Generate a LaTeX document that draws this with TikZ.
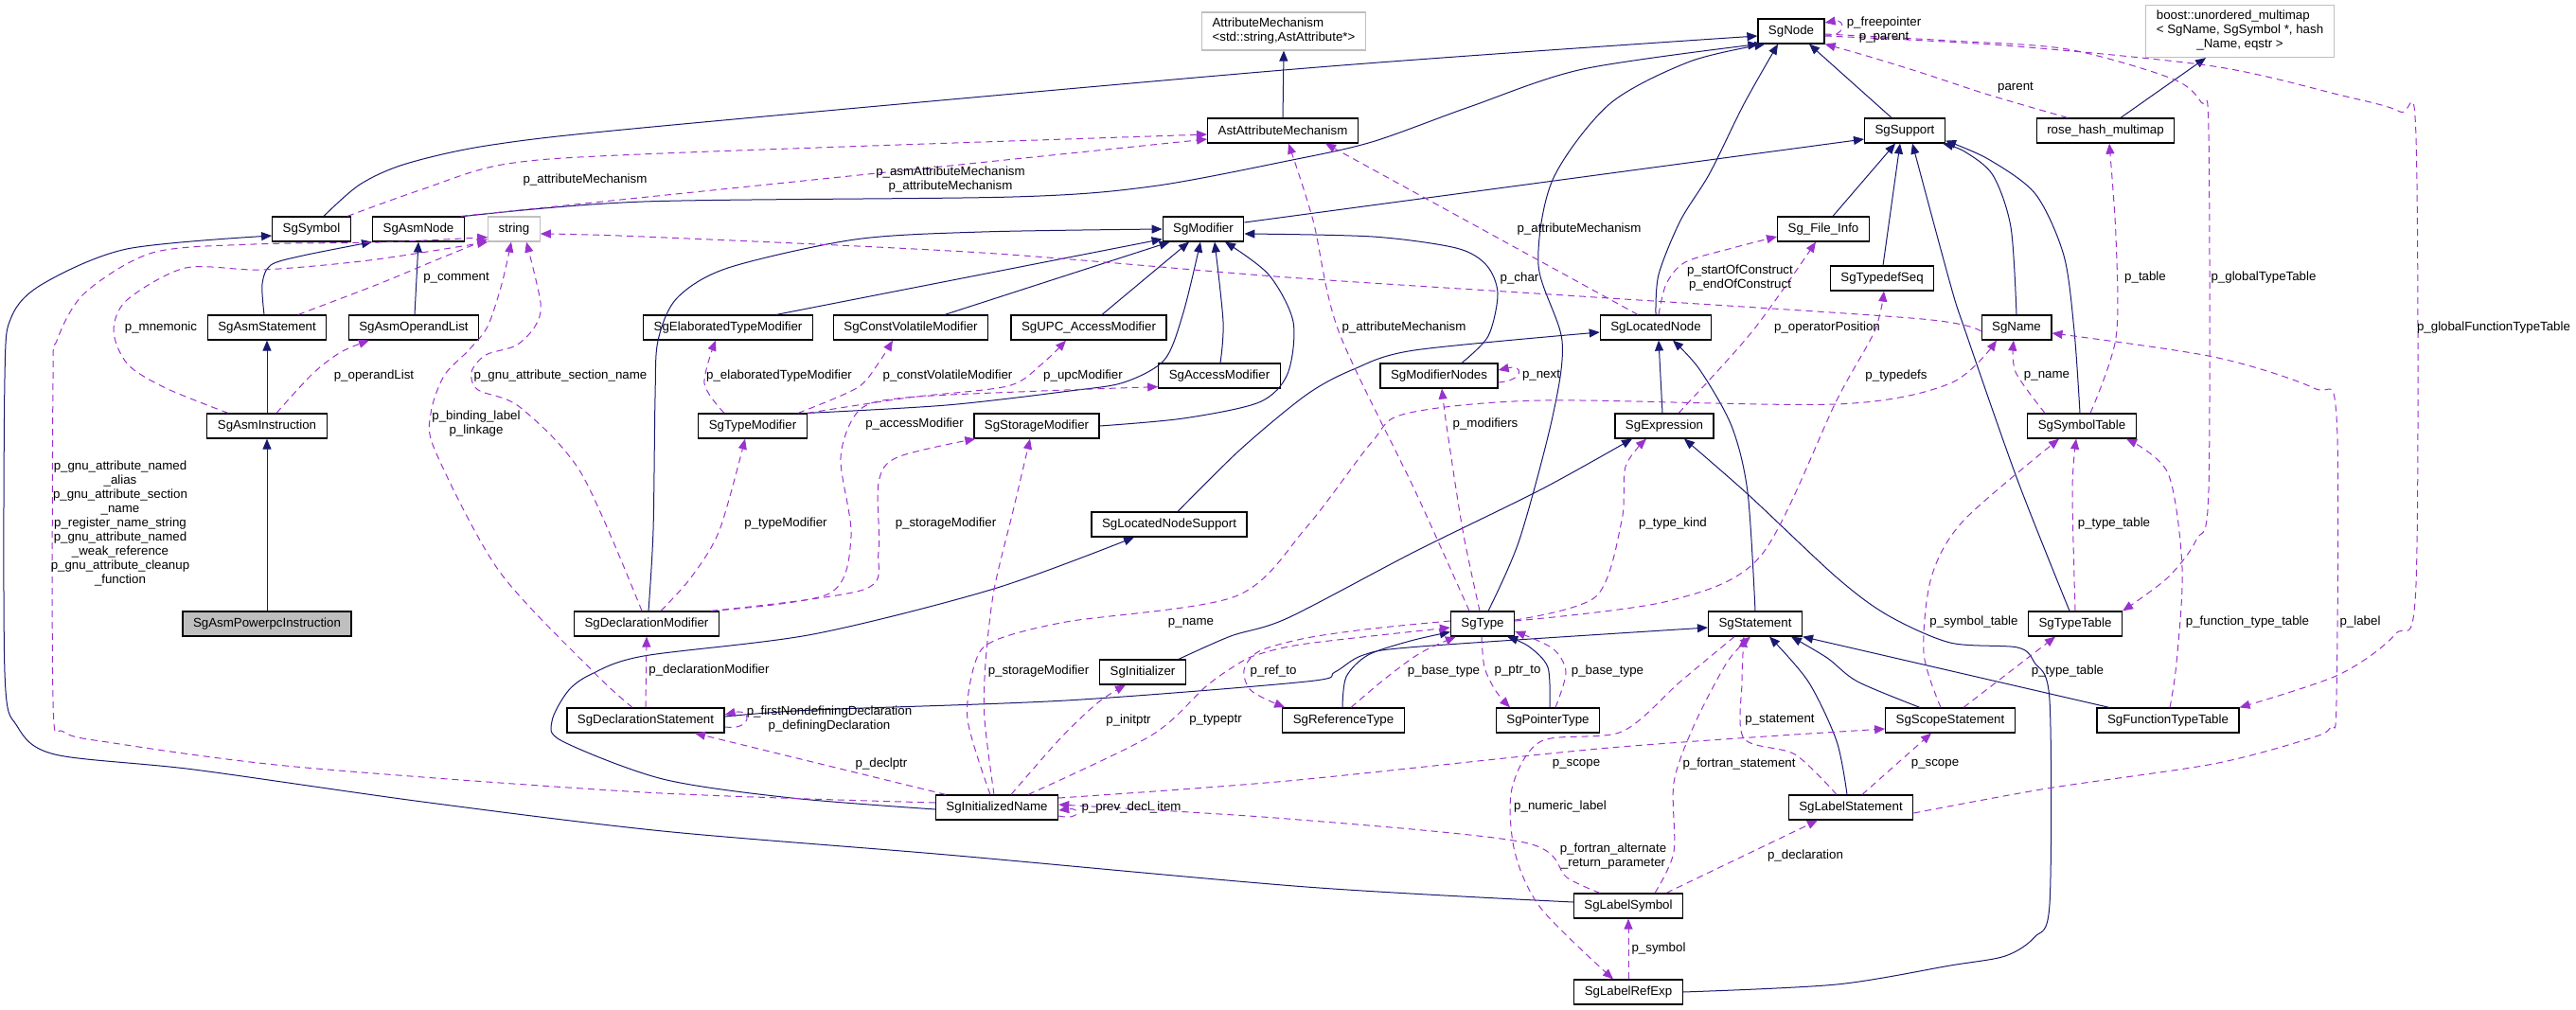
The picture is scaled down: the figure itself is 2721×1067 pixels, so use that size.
\documentclass[tikz,border=0pt]{standalone}
\usepackage{fontspec}
\setmainfont{Liberation Sans}
\usetikzlibrary{arrows.meta}
\definecolor{inhblue}{HTML}{191970}
\definecolor{usepurple}{HTML}{9A32CD}
\definecolor{boxgray}{HTML}{BFBFBF}

\begin{document}
\begin{tikzpicture}[x=1pt, y=-1pt,
    cls/.style={draw=black, line width=1.2pt, fill=white, minimum height=26pt,
        inner xsep=11pt, inner ysep=5pt, font=\fontsize{13.3}{15}\selectfont},
    ext/.style={cls, draw=boxgray},
    hl/.style={cls, fill=boxgray},
    inh/.style={draw=inhblue, line width=1pt, -{Triangle[length=11pt,width=9pt]}},
    usage/.style={draw=usepurple, line width=1pt, dash pattern=on 7pt off 5pt,
        -{Triangle[length=11pt,width=9pt]}},
    lbl/.style={inner sep=0pt, align=center, font=\fontsize{13.3}{15}\selectfont},
]
    \useasboundingbox (0,0) rectangle (2721,1067);

    % classes
    \node [ext] (AttrMech) at (1356,33) {\begin{tabular}{@{}l@{}}AttributeMechanism\\\multicolumn{1}{@{}c@{}}{<std::string,AstAttribute*>}\end{tabular}};
    \node [ext] (boostMap) at (2366,33) {\begin{tabular}{@{}l@{}}boost::unordered\_multimap\\< SgName, SgSymbol *, hash\\\multicolumn{1}{@{}c@{}}{\_Name, eqstr >}\end{tabular}};
    \node [cls] (SgNode) at (1892,33) {SgNode};
    \node [cls] (AstAttr) at (1355,138) {AstAttributeMechanism};
    \node [cls] (SgSupport) at (2012,138) {SgSupport};
    \node [cls] (roseHash) at (2224,138) {rose\_hash\_multimap};
    \node [cls] (SgSymbol) at (329,242) {SgSymbol};
    \node [cls] (SgAsmNode) at (442,242) {SgAsmNode};
    \node [ext] (string) at (543,242) {string};
    \node [cls] (SgModifier) at (1271,242) {SgModifier};
    \node [cls] (SgFileInfo) at (1926,242) {Sg\_File\_Info};
    \node [cls] (SgTypedefSeq) at (1988,294) {SgTypedefSeq};
    \node [cls] (SgAsmStatement) at (282,346) {SgAsmStatement};
    \node [cls] (SgAsmOperandList) at (437,346) {SgAsmOperandList};
    \node [cls] (SgElabMod) at (769,346) {SgElaboratedTypeModifier};
    \node [cls] (SgCVMod) at (962,346) {SgConstVolatileModifier};
    \node [cls] (SgUPCMod) at (1150,346) {SgUPC\_AccessModifier};
    \node [cls] (SgLocatedNode) at (1749,346) {SgLocatedNode};
    \node [cls] (SgName) at (2130,346) {SgName};
    \node [cls] (SgAccessMod) at (1288,397) {SgAccessModifier};
    \node [cls] (SgModifierNodes) at (1520,397) {SgModifierNodes};
    \node [cls] (SgAsmInstruction) at (282,450) {SgAsmInstruction};
    \node [cls] (SgTypeMod) at (795,450) {SgTypeModifier};
    \node [cls] (SgStorageMod) at (1095,450) {SgStorageModifier};
    \node [cls] (SgExpression) at (1758,450) {SgExpression};
    \node [cls] (SgSymbolTable) at (2199,450) {SgSymbolTable};
    \node [cls] (SgLocNodeSupport) at (1235,554) {SgLocatedNodeSupport};
    \node [hl] (SgAsmPowerpc) at (282,659) {SgAsmPowerpcInstruction};
    \node [cls] (SgDeclMod) at (683,659) {SgDeclarationModifier};
    \node [cls] (SgType) at (1566,659) {SgType};
    \node [cls] (SgStatement) at (1854,659) {SgStatement};
    \node [cls] (SgTypeTable) at (2192,659) {SgTypeTable};
    \node [cls] (SgInitializer) at (1207,710) {SgInitializer};
    \node [cls] (SgDeclStmt) at (682,761) {SgDeclarationStatement};
    \node [cls] (SgRefType) at (1419,761) {SgReferenceType};
    \node [cls] (SgPtrType) at (1635,761) {SgPointerType};
    \node [cls] (SgScopeStmt) at (2060,761) {SgScopeStatement};
    \node [cls] (SgFuncTypeTable) at (2290,761) {SgFunctionTypeTable};
    \node [cls] (SgInitName) at (1053,853) {SgInitializedName};
    \node [cls] (SgLabelStmt) at (1955,853) {SgLabelStatement};
    \node [cls] (SgLabelSymbol) at (1720,957) {SgLabelSymbol};
    \node [cls] (SgLabelRefExp) at (1720,1048) {SgLabelRefExp};

    % inheritance
    \draw [inh] plot [smooth] coordinates {([xshift=13pt]SgSymbol.north) (380,195) (429,173) (520,153) (700,133) (1380,72) ([yshift=-5pt]SgNode.west)};
    \draw [inh] plot [smooth] coordinates {(SgAsmNode.north east) (680,213) (1070,208) (1216,197) (1360,170) (1449,150) (1552,113) (1672,73) ([xshift=1pt]SgNode.south west)};
    \draw [inh] plot [smooth] coordinates {([xshift=-3pt]SgAsmStatement.north) (277,300) (286,280) (320,270) (SgAsmNode.south west)};
    \draw [inh] ([xshift=1pt]SgAsmOperandList.north) -- (SgAsmNode.south);
    \draw [inh] (SgAsmInstruction.north) -- (SgAsmStatement.south);
    \draw [inh] (SgAsmPowerpc.north) -- (SgAsmInstruction.south);
    \draw [inh] (AstAttr.north) -- (AttrMech.south);
    \draw [inh] ([yshift=7pt]SgModifier.east) -- ([yshift=-9pt]SgSupport.west);
    \draw [inh] ([xshift=51pt]SgElabMod.north) -- ([yshift=3pt]SgModifier.south west);
    \draw [inh] ([xshift=36pt]SgCVMod.north) -- ([xshift=8pt]SgModifier.south west);
    \draw [inh] ([xshift=14pt]SgUPCMod.north) -- ([xshift=-15pt]SgModifier.south);
    \draw [inh] plot [smooth] coordinates {([xshift=2pt]SgDeclMod.north) (690,560) (692,420) (695,360) (715,315) (769,283) (903,253) (1037,245) (SgModifier.west)};
    \draw [inh] plot [smooth] coordinates {(SgTypeMod.north east) (1000,428) (1130,413) (1187,404) (1230,380) (1250,330) ([xshift=-3pt]SgModifier.south)};
    \draw [inh] plot [smooth] coordinates {([xshift=1pt]SgAccessMod.north) (1292,340) ([xshift=12pt]SgModifier.south)};
    \draw [inh] plot [smooth] coordinates {(SgStorageMod.east) (1250,442) (1330,425) (1360,395) (1366,340) (1340,290) ([xshift=23pt]SgModifier.south)};
    \draw [inh] plot [smooth] coordinates {([xshift=24pt]SgModifierNodes.north) (1572,355) (1582,310) (1570,280) (1538,262) (1450,250) ([yshift=-5pt]SgModifier.east)};
    \draw [inh] plot [smooth] coordinates {(SgLocatedNode.north) (1752,290) (1775,233) (1806,183) (1842,110) ([xshift=-14pt]SgNode.south)};
    \draw [inh] plot [smooth] coordinates {([xshift=6pt]SgType.north) (1605,570) (1640,440) (1650,360) (1625,280) (1640,190) (1700,110) (1785,65) ([xshift=8pt]SgNode.south west)};
    \draw [inh] ([xshift=-14pt]SgSupport.north) -- ([xshift=19pt]SgNode.south);
    \draw [inh] ([xshift=10pt]SgFileInfo.north) -- ([xshift=-10pt]SgSupport.south);
    \draw [inh] ([xshift=1pt]SgTypedefSeq.north) -- ([xshift=-5pt]SgSupport.south);
    \draw [inh] plot [smooth] coordinates {(SgName.north) (2124,240) (2105,185) (2075,160) ([xshift=-3pt]SgSupport.south east)};
    \draw [inh] plot [smooth] coordinates {([xshift=-2pt]SgSymbolTable.north) (2191,350) (2180,270) (2150,205) (2100,168) ([yshift=3pt]SgSupport.south east)};
    \draw [inh] plot [smooth] coordinates {([xshift=-6pt]SgTypeTable.north) (2131,507) (2076,350) (2060,300) ([xshift=8pt]SgSupport.south)};
    \draw [inh] ([xshift=16pt]roseHash.north) -- ([xshift=-36pt]boostMap.south);
    \draw [inh] plot [smooth] coordinates {([xshift=9pt]SgLocNodeSupport.north) (1310,475) (1380,417) (1430,390) (1494,370) ([yshift=-5pt]SgLocatedNode.west)};
    \draw [inh] ([xshift=-2pt]SgExpression.north) -- ([xshift=3pt]SgLocatedNode.south);
    \draw [inh] plot [smooth] coordinates {(SgStatement.north) (1846,520) (1829,450) (1795,390) ([xshift=18pt]SgLocatedNode.south)};
    \draw [inh] plot [smooth] coordinates {([xshift=38pt]SgInitializer.north) (1300,672) (1360,653) (1494,583) (1628,517) ([xshift=-34pt]SgExpression.south)};
    \draw [inh] plot [smooth] coordinates {(SgLabelRefExp.east) (1940,1040) (2060,1020) (2118,1010) (2149,990) (2165,955) (2165,740) (2149,700) (2131,684) (2060,679) (1994,650) (1940,610) (1846,522) ([xshift=21pt]SgExpression.south)};
    \draw [inh] plot [smooth] coordinates {([xshift=-1pt]SgRefType.north) (1422,715) (1445,692) (1490,677) ([yshift=5pt]SgType.south west)};
    \draw [inh] plot [smooth] coordinates {([xshift=2pt]SgPtrType.north) (1635,705) (1615,683) ([xshift=-8pt]SgType.south east)};
    \draw [inh] plot [smooth] coordinates {([yshift=4pt]SgDeclStmt.east) (859,750) (1126,740) (1380,720) (1410,710) (1440,692) (1500,683) ([yshift=-4pt]SgStatement.west)};
    \draw [inh] plot [smooth] coordinates {([xshift=-4pt]SgLabelStmt.north) (1940,783) (1910,720) ([xshift=15pt]SgStatement.south)};
    \draw [inh] plot [smooth] coordinates {([xshift=-32pt]SgScopeStmt.north) (1962,720) (1930,695) ([xshift=38pt]SgStatement.south)};
    \draw [inh] ([xshift=-62pt]SgFuncTypeTable.north) -- (SgStatement.south east);
    \draw [inh] plot [smooth] coordinates {([yshift=4pt]SgLabelSymbol.west) (1380,937) (1000,903) (700,878) (446,847) (205,813) (58,797) (18,767) (5,710) (5,400) (12,335) (45,300) (134,263) ([yshift=-7pt]SgSymbol.west)};
    \draw [inh] plot [smooth] coordinates {([yshift=-2pt]SgInitName.west) (836,843) (700,823) (594,783) (583,762) (600,730) (625,712) (680,693) (859,670) (1050,622) ([xshift=-37pt]SgLocNodeSupport.south)};

    % usage
    \draw [usage] plot [smooth] coordinates {([xshift=38pt]SgSymbol.north) (446,200) (536,173) (700,162) ([yshift=-4pt]AstAttr.west)};
    \draw [usage] ([xshift=-4pt]SgAsmNode.north east) -- ([yshift=-9pt]AstAttr.west);
    \draw [usage] ([xshift=-19pt]SgLocatedNode.north) -- ([xshift=45pt]AstAttr.south);
    \draw [usage] plot [smooth] coordinates {([xshift=-14pt]SgType.north) (1494,517) (1414,350) (1387,233) ([xshift=6pt]AstAttr.south)};
    \draw [usage] plot [smooth] coordinates {([yshift=-4pt]SgName.west) (2030,337) (1700,315) (1360,293) (1037,267) (680,250) ([yshift=-5pt]string.east)};
    \draw [usage] plot [smooth] coordinates {([xshift=33pt]SgAsmStatement.north) (400,300) (460,275) ([yshift=3pt]string.south west)};
    \draw [usage] plot [smooth] coordinates {([xshift=-41pt]SgAsmInstruction.north) (175,410) (135,385) (120,350) (134,317) (196,283) (277,285) (390,275) (string.south west)};
    \draw [usage] plot [smooth] coordinates {([xshift=10pt]SgAsmInstruction.north) (330,395) (360,372) ([xshift=-47pt]SgAsmOperandList.south)};
    \draw [usage] plot [smooth] coordinates {([yshift=5pt]SgInitName.west) (680,837) (312,810) (120,785) (67,773) (56,740) (56,400) (60,360) (89,310) (161,267) (268,258) (400,256) ([yshift=5pt]string.south west)};
    \draw [usage] plot [smooth] coordinates {([xshift=-5pt]SgDeclMod.north) (614,500) (549,430) (505,412) (498,393) (513,375) (545,365) (565,345) (571,320) ([xshift=13pt]string.south)};
    \draw [usage] plot [smooth] coordinates {([xshift=-14pt]SgDeclStmt.north) (627,710) (527,603) (460,477) (455,437) (469,397) (495,370) (515,345) (530,300) ([xshift=-3pt]string.south)};
    \draw [usage] plot [smooth] coordinates {([xshift=-30pt]SgTypeMod.north) (744,405) ([xshift=-13pt]SgElabMod.south)};
    \draw [usage] plot [smooth] coordinates {([xshift=48pt]SgTypeMod.north) (905,410) (927,385) ([xshift=-19pt]SgCVMod.south)};
    \draw [usage] plot [smooth] coordinates {(SgTypeMod.north east) (960,420) (1064,408) (1100,385) ([xshift=-24pt]SgUPCMod.south)};
    \draw [usage] plot [smooth] coordinates {([xshift=68pt]SgDeclMod.north) (876,627) (899,567) (888,483) (908,433) (957,420) (1100,413) ([yshift=2pt]SgAccessMod.south west)};
    \draw [usage] plot [smooth] coordinates {([xshift=68pt]SgDeclMod.north) (912,623) (928,583) (928,510) (948,483) ([xshift=2pt]SgStorageMod.south west)};
    \draw [usage] plot [smooth] coordinates {([xshift=15pt]SgDeclMod.north) (730,610) (760,560) ([xshift=-8pt]SgTypeMod.south)};
    \draw [usage] plot [smooth] coordinates {([xshift=-3pt]SgInitName.north) (1040,760) (1041,700) (1050,623) (1070,540) ([xshift=-7pt]SgStorageMod.south)};
    \draw [usage] plot [smooth] coordinates {([xshift=-7pt]SgInitName.north) (1022,760) (1030,700) (1050,677) (1126,657) (1305,630) (1380,557) (1449,467) (1485,437) (1628,423) (1940,427) (2060,405) ([xshift=-21pt]SgName.south)};
    \draw [usage] (SgDeclStmt.north) -- (SgDeclMod.south);
    \draw [usage] ([yshift=-7pt]SgDeclStmt.east) .. controls (795,772) and (795,748) .. ([yshift=6pt]SgDeclStmt.east);
    \draw [usage] ([xshift=-54pt]SgInitName.north) -- ([xshift=52pt]SgDeclStmt.south);
    \draw [usage] plot [smooth] coordinates {([xshift=15pt]SgInitName.north) (1120,780) (1160,742) ([xshift=-18pt]SgInitializer.south)};
    \draw [usage] plot [smooth] coordinates {([xshift=33pt]SgInitName.north) (1216,777) (1274,725) (1305,703) (1327,692) (1380,680) ([yshift=-4pt]SgType.west)};
    \draw [usage] plot [smooth] coordinates {([yshift=3pt]SgType.west) (1450,664) (1380,674) (1330,688) (1314,708) (1322,730) ([xshift=3pt]SgRefType.north west)};
    \draw [usage] plot [smooth] coordinates {([xshift=8pt]SgRefType.north) (1463,717) (1500,690) ([xshift=6pt]SgType.south west)};
    \draw [usage] plot [smooth] coordinates {([xshift=-1pt]SgType.south) (1568,705) (1580,730) ([xshift=-40pt]SgPtrType.north)};
    \draw [usage] plot [smooth] coordinates {([xshift=8pt]SgPtrType.north) (1654,710) (1640,685) ([yshift=-8pt]SgType.east)};
    \draw [usage] plot [smooth] coordinates {([xshift=-3pt]SgType.north) (1545,560) (1528,450) ([xshift=3pt]SgModifierNodes.south)};
    \draw [usage] ([yshift=-7pt]SgModifierNodes.east) .. controls (1610,402) and (1610,385) .. ([yshift=6pt]SgModifierNodes.east);
    \draw [usage] plot [smooth] coordinates {([yshift=4pt]SgType.east) (1686,630) (1713,550) (1717,493) ([xshift=-19pt]SgExpression.south)};
    \draw [usage] plot [smooth] coordinates {([yshift=3pt]SgType.east) (1762,635) (1860,587) (1940,423) (1980,350) ([xshift=2pt]SgTypedefSeq.south)};
    \draw [usage] plot [smooth] coordinates {([xshift=15pt]SgExpression.north) (1851,350) ([xshift=-8pt]SgFileInfo.south)};
    \draw [usage] plot [smooth] coordinates {([xshift=3pt]SgLocatedNode.north) (1760,300) (1780,277) (1830,262) ([yshift=-8pt]SgFileInfo.west)};
    \draw [usage] ([yshift=-4pt]SgNode.east) .. controls (1950,40) and (1950,20) .. ([yshift=9pt]SgNode.east);
    \draw [usage] plot [smooth] coordinates {([xshift=-40pt]roseHash.north) (2100,100) (2030,77) (1975,60) (SgNode.south east)};
    \draw [usage] plot [smooth] coordinates {([yshift=-3pt]SgNode.east) (2060,43) (2184,52) (2294,83) (2325,108) (2333,140) (2333,517) (2320,570) (2290,610) (SgTypeTable.north east)};
    \draw [usage] plot [smooth] coordinates {([yshift=-5pt]SgNode.east) (2118,48) (2338,70) (2470,100) (2535,118) (2552,145) (2552,617) (2530,670) (2470,713) (SgFuncTypeTable.north east)};
    \draw [usage] plot [smooth] coordinates {([xshift=9pt]SgSymbolTable.north) (2235,357) (2235,250) ([xshift=4pt]roseHash.south)};
    \draw [usage] plot [smooth] coordinates {([xshift=-39pt]SgSymbolTable.north) (2129,393) ([xshift=-3pt]SgName.south)};
    \draw [usage] plot [smooth] coordinates {(SgTypeTable.north) (2189,517) ([xshift=-6pt]SgSymbolTable.south)};
    \draw [usage] plot [smooth] coordinates {([xshift=2pt]SgFuncTypeTable.north) (2299,700) (2305,600) (2290,500) ([xshift=47pt]SgSymbolTable.south)};
    \draw [usage] plot [smooth] coordinates {([xshift=-10pt]SgScopeStmt.north) (2032,690) (2040,610) (2074,550) ([xshift=-24pt]SgSymbolTable.south)};
    \draw [usage] ([xshift=14pt]SgScopeStmt.north) -- ([xshift=-21pt]SgTypeTable.south);
    \draw [usage] plot [smooth] coordinates {([yshift=-6pt]SgLabelStmt.east) (2162,833) (2338,807) (2440,780) (2462,768) (2468,740) (2468,440) (2444,410) (2338,377) ([yshift=-6pt]SgName.east)};
    \draw [usage] plot [smooth] coordinates {([xshift=-15pt]SgLabelStmt.north) (1896,797) (1842,780) (1840,720) ([xshift=-12pt]SgStatement.south)};
    \draw [usage] plot [smooth] coordinates {([xshift=28pt]SgLabelSymbol.north) (1768,900) (1768,827) (1789,767) (1824,700) ([xshift=-5pt]SgStatement.south)};
    \draw [usage] plot [smooth] coordinates {([xshift=-22pt]SgStatement.south) (1775,720) (1713,773) (1628,783) (1597,833) (1600,900) (1628,960) ([xshift=-16pt]SgLabelRefExp.north)};
    \draw [usage] plot [smooth] coordinates {([yshift=10pt]SgInitName.east) (1360,825) (1700,790) ([yshift=-9pt]SgScopeStmt.west)};
    \draw [usage] plot [smooth] coordinates {([xshift=-30pt]SgLabelSymbol.north) (1655,927) (1610,890) (1360,865) ([yshift=3pt]SgInitName.east)};
    \draw [usage] ([yshift=-9pt]SgInitName.east) .. controls (1142,867) and (1142,853) .. ([yshift=-3pt]SgInitName.east);
    \draw [usage] plot [smooth] coordinates {([xshift=40pt]SgLabelSymbol.north) (1840,905) ([xshift=-35pt]SgLabelStmt.south)};
    \draw [usage] ([xshift=12pt]SgLabelStmt.north) -- ([xshift=-20pt]SgScopeStmt.south);
    \draw [usage] (SgLabelRefExp.north) -- (SgLabelSymbol.south);

    % edge labels
    \node [lbl] (lSymAttr) at (618,190) {p\_attributeMechanism};
    \node [lbl] (lAsmAttr) at (1004,190) {p\_asmAttributeMechanism\\p\_attributeMechanism};
    \node [lbl] (lComment) at (482,294) {p\_comment};
    \node [lbl] (lMnemonic) at (170,346) {p\_mnemonic};
    \node [lbl] (lOperand) at (395,397) {p\_operandList};
    \node [lbl] (lGnu) at (127,553) {p\_gnu\_attribute\_named\\\_alias\\p\_gnu\_attribute\_section\\\_name\\p\_register\_name\_string\\p\_gnu\_attribute\_named\\\_weak\_reference\\p\_gnu\_attribute\_cleanup\\\_function};
    \node [lbl] (lSection) at (592,397) {p\_gnu\_attribute\_section\_name};
    \node [lbl] (lBinding) at (503,448) {p\_binding\_label\\p\_linkage};
    \node [lbl] (lElab) at (823,397) {p\_elaboratedTypeModifier};
    \node [lbl] (lCV) at (1001,397) {p\_constVolatileModifier};
    \node [lbl] (lUpc) at (1144,397) {p\_upcModifier};
    \node [lbl] (lAccess) at (966,448) {p\_accessModifier};
    \node [lbl] (lTypeMod) at (830,553) {p\_typeModifier};
    \node [lbl] (lStorage) at (999,553) {p\_storageModifier};
    \node [lbl] (lDeclMod) at (749,708) {p\_declarationModifier};
    \node [lbl] (lStorage2) at (1097,709) {p\_storageModifier};
    \node [lbl] (lDefDecl) at (876,760) {p\_firstNondefiningDeclaration\\p\_definingDeclaration};
    \node [lbl] (lDeclptr) at (931,807) {p\_declptr};
    \node [lbl] (lInitptr) at (1192,761) {p\_initptr};
    \node [lbl] (lTypeptr) at (1284,761) {p\_typeptr};
    \node [lbl] (lName) at (1258,658) {p\_name};
    \node [lbl] (lRefTo) at (1345,709) {p\_ref\_to};
    \node [lbl] (lBaseRef) at (1525,709) {p\_base\_type};
    \node [lbl] (lPtrTo) at (1603,709) {p\_ptr\_to};
    \node [lbl] (lBasePtr) at (1698,709) {p\_base\_type};
    \node [lbl] (lTypeAttr) at (1483,346) {p\_attributeMechanism};
    \node [lbl] (lLocAttr) at (1668,242) {p\_attributeMechanism};
    \node [lbl] (lChar) at (1605,294) {p\_char};
    \node [lbl] (lModifiers) at (1569,448) {p\_modifiers};
    \node [lbl] (lNext) at (1628,397) {p\_next};
    \node [lbl] (lTypeKind) at (1767,553) {p\_type\_kind};
    \node [lbl] (lTypedefs) at (2003,397) {p\_typedefs};
    \node [lbl] (lOpPos) at (1930,346) {p\_operatorPosition};
    \node [lbl] (lConstruct) at (1838,294) {p\_startOfConstruct\\p\_endOfConstruct};
    \node [lbl] (lFree) at (1990,32) {p\_freepointer\\p\_parent};
    \node [lbl] (lParent) at (2129,93) {parent};
    \node [lbl] (lTable) at (2266,293) {p\_table};
    \node [lbl] (lGlobType) at (2391,293) {p\_globalTypeTable};
    \node [lbl] (lGlobFunc) at (2634,346) {p\_globalFunctionTypeTable};
    \node [lbl] (lName2) at (2162,397) {p\_name};
    \node [lbl] (lTypeTable) at (2233,553) {p\_type\_table};
    \node [lbl] (lSymTable) at (2085,657) {p\_symbol\_table};
    \node [lbl] (lFuncTable) at (2374,657) {p\_function\_type\_table};
    \node [lbl] (lLabel) at (2493,657) {p\_label};
    \node [lbl] (lTypeTable2) at (2184,709) {p\_type\_table};
    \node [lbl] (lStatement) at (1880,761) {p\_statement};
    \node [lbl] (lScope) at (1665,807) {p\_scope};
    \node [lbl] (lFortStmt) at (1837,807) {p\_fortran\_statement};
    \node [lbl] (lScope2) at (2044,807) {p\_scope};
    \node [lbl] (lNumLabel) at (1648,852) {p\_numeric\_label};
    \node [lbl] (lPrev) at (1195,853) {p\_prev\_decl\_item};
    \node [lbl] (lFortAlt) at (1704,905) {p\_fortran\_alternate\\\_return\_parameter};
    \node [lbl] (lDeclaration) at (1907,904) {p\_declaration};
    \node [lbl] (lSymbol) at (1752,1002) {p\_symbol};
\end{tikzpicture}
\end{document}
